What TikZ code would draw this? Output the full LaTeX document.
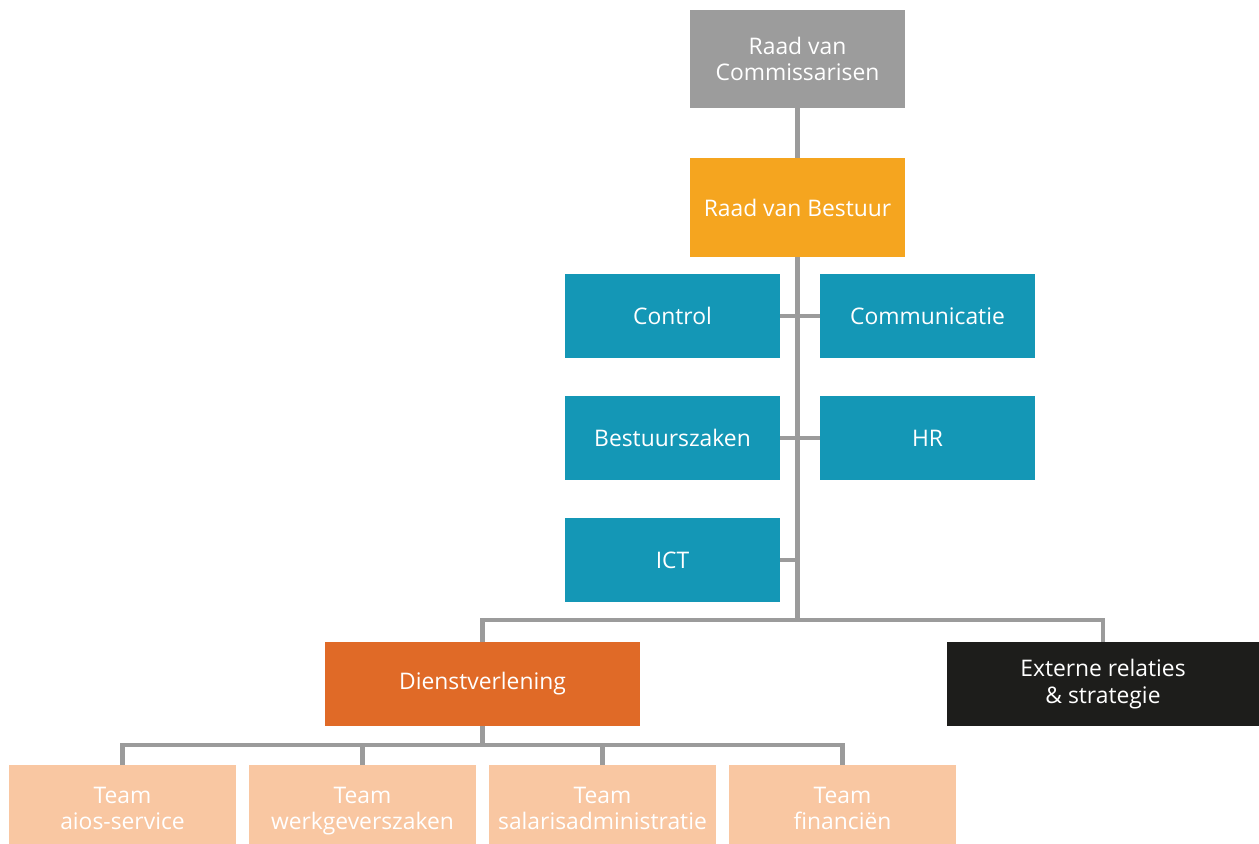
\documentclass[tikz,border=0pt]{standalone}
\usepackage{fontspec}
\setmainfont{Open Sans}
\usetikzlibrary{positioning}

\definecolor{rvcgray}{HTML}{9C9C9C}
\definecolor{rvborange}{HTML}{F5A51F}
\definecolor{staffblue}{HTML}{1497B6}
\definecolor{dienstorange}{HTML}{E06A27}
\definecolor{extblack}{HTML}{1D1D1B}
\definecolor{teampeach}{HTML}{F9C7A2}
\definecolor{linegray}{HTML}{9B9B9B}

\tikzset{
  box/.style={text=white, align=center, inner sep=0pt, font=\fontsize{13}{15}\selectfont},
  staff/.style={box, fill=staffblue, minimum width=4.3cm, minimum height=1.68cm},
  team/.style={box, fill=teampeach, minimum width=4.54cm, minimum height=1.88cm},
  conn/.style={draw=linegray, line width=2.6pt, line join=miter}
}

\begin{document}
\begin{tikzpicture}[x=0.02cm,y=-0.02cm]
   \useasboundingbox (0,0) rectangle (1259,843);

   % top of the chart
   \node[box, fill=rvcgray, minimum width=4.3cm, minimum height=1.96cm] (rvc) at (797.5,59) {Raad van\\Commissarisen};
   \node[box, fill=rvborange, minimum width=4.3cm, minimum height=1.98cm] (rvb) at (797.5,207.5) {Raad van Bestuur};

   % staff
   \node[staff] (control) at (672.5,316) {Control};
   \node[staff] (communicatie) at (927.5,316) {Communicatie};
   \node[staff] (bestuurszaken) at (672.5,438) {Bestuurszaken};
   \node[staff] (hr) at (927.5,438) {HR};
   \node[staff] (ict) at (672.5,560) {ICT};

   % line
   \node[box, fill=dienstorange, minimum width=6.3cm, minimum height=1.68cm] (dienst) at (482.5,684) {Dienstverlening};
   \node[box, fill=extblack, minimum width=6.24cm, minimum height=1.68cm] (extern) at (1103,684) {Externe relaties\\\& strategie};

   % teams
   \node[team] (aios) at (122.5,812) {Team\\aios-service\strut};
   \node[team] (werkgever) at (362.5,812) {Team\\werkgeverszaken\strut};
   \node[team] (salaris) at (602.5,812) {Team\\salarisadministratie\strut};
   \node[team] (financien) at (842.5,812) {Team\\financiën\strut};

   \coordinate (split) at (797.5,620);
   \coordinate (teamsplit) at (482.5,745);

   \draw[conn] (rvc.south) -- (rvb.north);
   \draw[conn] (rvb.south) -- (split);
   \draw[conn] (control.east) -- (communicatie.west);
   \draw[conn] (bestuurszaken.east) -- (hr.west);
   \draw[conn] (ict.east) -- (ict.east -| split);
   \draw[conn] (dienst.north) |- (split) -| (extern.north);
   \draw[conn] (dienst.south) -- (teamsplit);
   \foreach \t in {aios,werkgever,salaris,financien}
      \draw[conn] (\t.north) |- (teamsplit);
\end{tikzpicture}
\end{document}
